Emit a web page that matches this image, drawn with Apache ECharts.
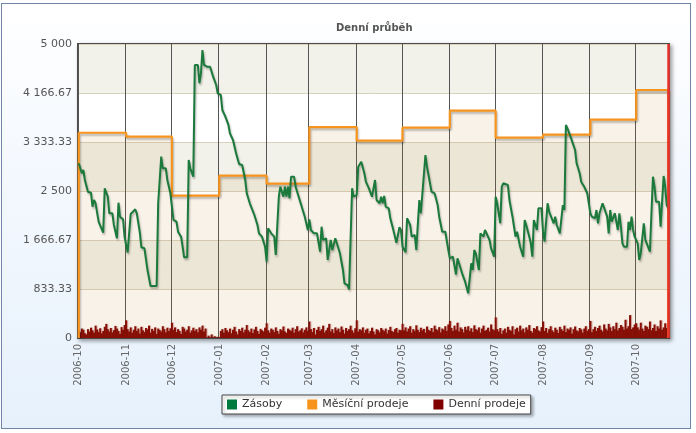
<!DOCTYPE html>
<html><head><meta charset="utf-8">
<script src="https://cdn.jsdelivr.net/npm/echarts@6/dist/echarts.min.js"></script>
<style>
html,body{margin:0;padding:0;width:696px;height:433px;background:#fff;overflow:hidden}
#frame{position:absolute;left:1px;top:3px;width:688px;height:424px;border:1px solid #6f86a6;background:linear-gradient(to bottom,#ffffff 0%,#f5f9fe 35%,#e6f1fc 100%);}
#chart{position:absolute;left:0;top:0;width:696px;height:433px}
</style></head><body>
<div id="frame"></div><div id="chart"></div>
<script>
// ---- data ----
const startDate = '2006-10-01';
// Denní prodeje: one value per day from 2006-10-01 to 2007-10-22
const dailySales = [
 120,95,160,140,80,60,150,110,175,130,90,210,145,100,165,80,120,190,240,150,110,170,95,135,205,160,120,70,185,140,220,
 300,150,110,180,90,140,200,120,160,75,190,130,100,170,145,210,90,155,120,180,70,160,135,110,200,150,95,175,120,165,
 260,140,180,100,150,120,70,190,160,110,140,200,90,130,175,120,150,95,180,140,210,110,160,0,40,0,60,0,30,0,20,
 0,120,150,90,170,130,100,160,80,140,190,110,60,150,120,175,95,140,220,130,100,160,85,145,190,120,70,155,130,110,175,
 250,130,90,160,140,100,180,120,70,150,130,195,110,85,160,140,120,175,90,150,200,110,130,165,95,140,180,120,
 280,150,100,170,60,140,190,120,150,210,95,130,175,240,110,150,85,180,130,160,100,195,140,75,170,120,150,210,130,90,165,
 300,110,150,130,180,90,140,160,80,120,175,110,60,150,130,95,170,140,115,160,75,135,190,120,100,150,170,90,140,130,
 240,130,180,110,160,200,90,150,120,215,140,100,175,130,155,90,195,140,120,170,100,210,150,130,185,95,160,140,200,120,230,
 290,170,120,210,140,260,110,180,150,95,190,140,200,120,165,100,215,150,130,180,90,160,210,120,140,175,110,230,150,130,
 350,150,110,170,70,130,160,90,190,140,120,200,60,150,175,110,210,130,160,95,180,140,220,120,90,170,150,200,130,110,185,
 280,120,170,90,150,200,130,100,175,140,85,190,150,120,210,100,160,140,180,75,150,195,130,110,170,145,90,160,200,120,150,
 290,100,150,190,120,170,210,140,110,230,160,130,240,180,120,200,150,260,130,170,220,190,140,310,160,200,390,150,180,230,
 250,180,140,260,160,120,210,190,150,280,130,170,230,120,200,160,300,140,180,250,170,260
];
// Měsíční prodeje: month start and monthly value
const monthStarts = ['2006-10-01','2006-11-01','2006-12-01','2007-01-01','2007-02-01','2007-03-01','2007-04-01','2007-05-01','2007-06-01','2007-07-01','2007-08-01','2007-09-01','2007-10-01'];
const monthlySales = [3491,3424,2420,2760,2624,3588,3356,3577,3866,3407,3458,3713,4218];
// Zásoby: [day offset from startDate, stock]
const stock = [
 [0,2971],[2,2801],[3,2857],[4,2687],[6,2488],[8,2471],[9,2233],[10,2347],[11,2291],[13,1978],[14,1978],[16,1791],[17,2546],[19,2403],[20,2121],[22,2121],[23,1922],[25,1696],[26,2301],[27,2063],[29,2019],[30,1723],[32,1451],[34,2109],[35,2131],[37,2189],[38,2121],[40,1791],[41,1543],[43,1526],[45,1156],[47,884],[51,884],[52,2291],[53,2318],[54,3084],[55,2886],[57,2886],[58,2687],[60,2461],[62,2007],[64,1978],[65,1808],[67,1723],[68,1553],[69,1372],[71,1372],[72,3027],[73,2886],[75,2743],[76,4643],[78,4643],[79,4332],[80,4502],[81,4898],[82,4643],[84,4614],[86,4614],[88,4444],[90,4303],[91,4162],[93,4133],[94,3878],[96,3764],[98,3623],[99,3481],[101,3367],[103,3141],[105,2959],[107,2942],[109,2687],[110,2461],[112,2291],[113,2279],[115,2092],[117,1922],[118,1780],[120,1723],[122,1553],[123,1298],[124,1866],[126,1780],[128,1723],[129,1412],[131,2403],[132,2573],[134,2403],[135,2573],[136,2403],[137,2573],[138,2376],[139,2743],[141,2743],[142,2573],[144,2403],[146,2233],[148,2063],[149,2036],[150,1837],[151,2019],[152,1837],[154,1780],[156,1780],[158,1468],[159,1893],[160,1667],[162,1696],[163,1327],[165,1667],[166,1497],[168,1696],[169,1679],[171,1440],[173,1156],[174,930],[176,901],[177,828],[179,2546],[180,2403],[182,2432],[183,2913],[185,2999],[187,2801],[188,2659],[190,2546],[191,2546],[192,2403],[194,2687],[195,2347],[197,2291],[198,2403],[199,2291],[200,2415],[201,2233],[203,2206],[204,2036],[206,1837],[208,1621],[210,1883],[211,1837],[212,1553],[214,1457],[215,2036],[217,1922],[218,1723],[220,1752],[221,1497],[223,2347],[224,2121],[225,2121],[227,3112],[228,2913],[229,2772],[231,2488],[233,2461],[235,2262],[236,2063],[238,1808],[240,1808],[242,1497],[243,1355],[245,1383],[247,1080],[248,1355],[249,1270],[251,1100],[253,958],[254,930],[255,760],[257,1270],[258,1156],[259,1497],[260,1440],[262,1156],[263,1780],[265,1723],[266,1837],[267,1848],[269,1667],[270,1525],[272,1383],[273,2403],[274,2291],[276,1951],[277,2573],[278,2631],[281,2602],[282,2347],[284,2063],[286,1723],[287,1808],[289,1553],[291,1383],[292,2007],[293,1922],[295,1723],[296,1610],[297,1383],[298,2007],[300,1837],[301,2206],[303,2206],[304,1808],[305,1638],[307,2291],[308,2148],[309,2177],[311,1951],[312,2063],[313,1922],[315,1780],[316,1752],[317,2262],[318,2177],[319,3623],[320,3566],[321,3594],[322,3424],[323,3424],[325,3197],[326,2971],[328,2801],[329,2659],[330,2659],[331,2573],[332,2585],[333,2461],[335,2121],[336,2063],[338,2036],[339,2177],[340,1951],[341,2121],[343,2291],[344,2291],[346,2063],[347,1780],[348,2177],[349,1978],[350,1951],[351,2121],[353,1837],[354,2121],[355,1893],[356,1610],[357,1553],[359,1553],[360,1978],[361,1837],[362,2063],[363,1837],[364,1723],[366,1610],[367,1327],[368,1440],[370,1951],[371,1667],[372,1667],[374,1468],[375,2121],[376,2743],[377,2573],[378,2318],[380,2318],[381,1893],[383,2755],[384,2573],[385,2262],[386,2206]
];
const yTicks = { min: 0, max: 5000, count: 6 };

// ---- build ----
const days = [];
(function(){
  const p = startDate.split('-').map(Number);
  const t0 = Date.UTC(p[0], p[1]-1, p[2]);
  for (let i = 0; i < dailySales.length; i++) {
    days.push(new Date(t0 + i*86400000).toISOString().slice(0,10));
  }
})();
const lastDay = days[days.length-1];
const orangeData = [[monthStarts[0], 0]];
monthStarts.forEach((m,i)=>orangeData.push([m, monthlySales[i]]));
orangeData.push([lastDay, monthlySales[monthlySales.length-1]]);
orangeData.push([lastDay, 0]);

function fmtY(v){
  const r = Math.round(v*100)/100;
  let s = Math.abs(r-Math.round(r))<1e-6 ? String(Math.round(r)) : r.toFixed(2);
  const parts = s.split('.');
  parts[0] = parts[0].replace(/\B(?=(\d{3})+(?!\d))/g, ' ');
  return parts.join('.');
}
const isMonthStart = (i, v) => String(v).slice(8) === '01';
const FONT = 'DejaVu Sans';
const shadow = { shadowColor:'rgba(0,0,0,0.28)', shadowBlur:2, shadowOffsetX:1, shadowOffsetY:2 };

const chart = echarts.init(document.getElementById('chart'), null, {renderer:'canvas'});
chart.setOption({
  animation:false,
  backgroundColor:'transparent',
  title:{ text:'Denní průběh', left:331, top:18, textStyle:{fontFamily:FONT, fontSize:10, fontWeight:'bold', color:'#555'} },
  legend:{
    data:['Zásoby','Měsíční prodeje','Denní prodeje'],
    left:222, top:395, icon:'rect', itemWidth:10, itemHeight:10, itemGap:25,
    padding:[4,5,4,5], backgroundColor:'#fff', borderColor:'#444', borderWidth:1,
    shadowColor:'rgba(0,0,0,0.3)', shadowBlur:3, shadowOffsetX:2, shadowOffsetY:2,
    textStyle:{fontFamily:FONT, fontSize:11, color:'#333'}
  },
  grid:{ left:78, right:27, top:44, bottom:95, show:true, backgroundColor:'#fff',
    borderColor:'#4d4d4d', borderWidth:2,
    shadowColor:'rgba(0,0,0,0.35)', shadowBlur:4, shadowOffsetX:2, shadowOffsetY:2 },
  xAxis:{
    type:'category', data:days, boundaryGap:true,
    axisLine:{show:true, lineStyle:{color:'#4d4d4d', width:2}},
    axisTick:{show:false},
    axisLabel:{interval:isMonthStart, rotate:90, fontSize:10, color:'#666', fontFamily:FONT, margin:6,
      formatter:v=>v.slice(0,7)},
    splitLine:{show:true, interval:isMonthStart, lineStyle:{color:'#555', width:1}}
  },
  yAxis:{
    type:'value', min:yTicks.min, max:yTicks.max, interval:(yTicks.max-yTicks.min)/yTicks.count,
    axisLine:{show:false}, axisTick:{show:false},
    axisLabel:{formatter:fmtY, fontSize:11, color:'#555', fontFamily:FONT, margin:6},
    splitLine:{show:true, lineStyle:{color:'#d8d2bc', width:1}},
    splitArea:{show:true, areaStyle:{color:['#ffffff','#f2f2ea']}}
  },
  series:[
    { name:'Denní prodeje', type:'bar', data:dailySales, barWidth:2, z:2,
      itemStyle:{color:'#800000', shadowColor:'rgba(128,0,0,0.35)', shadowBlur:1, shadowOffsetX:1},
      markLine:{ silent:true, symbol:['none','none'], label:{show:false},
        lineStyle:{color:'#e8302c', width:2.5, type:'solid'},
        data:[{xAxis:lastDay}] } },
    { name:'Měsíční prodeje', type:'line', step:'end', data:orangeData, symbol:'none', z:3,
      itemStyle:{color:'#f7941d'},
      lineStyle:Object.assign({color:'#f7941d', width:2.2}, shadow),
      areaStyle:{color:'rgba(190,130,50,0.15)'} },
    { name:'Zásoby', type:'line', data:stock, symbol:'none', z:4,
      itemStyle:{color:'#007a3d'},
      lineStyle:Object.assign({color:'#1b7a3b', width:2}, shadow) }
  ]
});
</script></body></html>
